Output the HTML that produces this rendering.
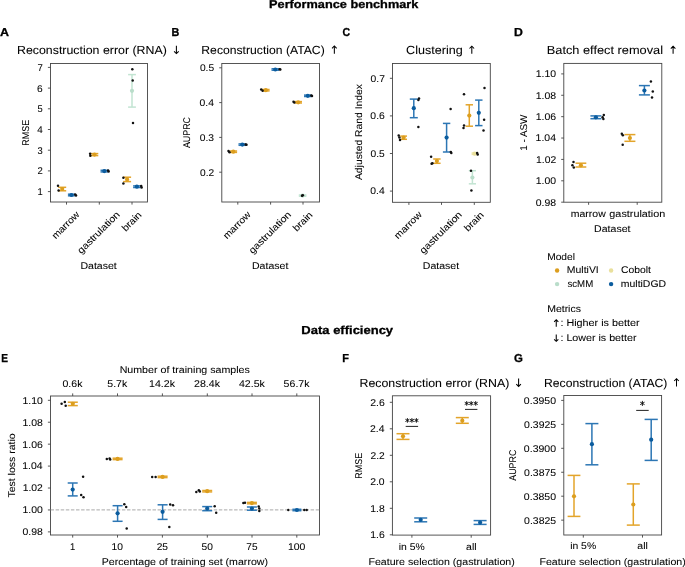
<!DOCTYPE html>
<html><head><meta charset="utf-8"><style>
html,body{margin:0;padding:0;background:#fff;}
svg{display:block;will-change:transform;}
text{font-family:"Liberation Sans",sans-serif;text-rendering:geometricPrecision;}
</style></head><body>
<svg width="685" height="567" viewBox="0 0 685 567">
<rect width="685" height="567" fill="#fff"/>
<text x="269.07" y="8.00" font-size="11.31" font-weight="bold" textLength="149.26" lengthAdjust="spacingAndGlyphs" fill="#000" stroke="#000" stroke-width="0.3">Performance benchmark</text>
<text x="301.36" y="333.70" font-size="11.55" font-weight="bold" textLength="91.74" lengthAdjust="spacingAndGlyphs" fill="#000" stroke="#000" stroke-width="0.3">Data efficiency</text>
<text x="-0.01" y="36.10" font-size="11.55" font-weight="bold" textLength="9.00" lengthAdjust="spacingAndGlyphs" fill="#000" stroke="#000" stroke-width="0.3">A</text>
<text x="171.60" y="36.10" font-size="11.55" font-weight="bold" textLength="7.81" lengthAdjust="spacingAndGlyphs" fill="#000" stroke="#000" stroke-width="0.3">B</text>
<text x="342.58" y="36.10" font-size="11.55" font-weight="bold" textLength="7.58" lengthAdjust="spacingAndGlyphs" fill="#000" stroke="#000" stroke-width="0.3">C</text>
<text x="514.00" y="36.10" font-size="11.55" font-weight="bold" textLength="8.84" lengthAdjust="spacingAndGlyphs" fill="#000" stroke="#000" stroke-width="0.3">D</text>
<text x="1.14" y="361.90" font-size="11.55" font-weight="bold" textLength="6.75" lengthAdjust="spacingAndGlyphs" fill="#000" stroke="#000" stroke-width="0.3">E</text>
<text x="342.19" y="362.00" font-size="11.55" font-weight="bold" textLength="6.72" lengthAdjust="spacingAndGlyphs" fill="#000" stroke="#000" stroke-width="0.3">F</text>
<text x="513.94" y="362.00" font-size="11.55" font-weight="bold" textLength="8.87" lengthAdjust="spacingAndGlyphs" fill="#000" stroke="#000" stroke-width="0.3">G</text>
<text x="17.01" y="54.00" font-size="11.72" textLength="149.82" lengthAdjust="spacingAndGlyphs" fill="#000" stroke="#000" stroke-width="0.06">Reconstruction error (RNA)</text>
<g stroke="#000" stroke-width="1.05" fill="none" stroke-linecap="butt"><line x1="176.4" y1="45.8" x2="176.4" y2="53.3"/><polyline points="174.1,51.3 176.4,53.6 178.70000000000002,51.3"/></g>
<rect x="50.5" y="63.5" width="97.0" height="138.5" fill="none" stroke="#444" stroke-width="0.9"/>
<line x1="47.9" y1="191.6" x2="50.5" y2="191.6" stroke="#444" stroke-width="0.9"/>
<text x="37.59" y="195.00" font-size="9.80" textLength="5.25" lengthAdjust="spacingAndGlyphs" fill="#000" stroke="#000" stroke-width="0.06">1</text>
<line x1="47.9" y1="170.9" x2="50.5" y2="170.9" stroke="#444" stroke-width="0.9"/>
<text x="37.54" y="174.00" font-size="9.80" textLength="5.30" lengthAdjust="spacingAndGlyphs" fill="#000" stroke="#000" stroke-width="0.06">2</text>
<line x1="47.9" y1="150.2" x2="50.5" y2="150.2" stroke="#444" stroke-width="0.9"/>
<text x="37.54" y="154.00" font-size="9.80" textLength="5.24" lengthAdjust="spacingAndGlyphs" fill="#000" stroke="#000" stroke-width="0.06">3</text>
<line x1="47.9" y1="129.5" x2="50.5" y2="129.5" stroke="#444" stroke-width="0.9"/>
<text x="37.16" y="133.00" font-size="9.80" textLength="5.49" lengthAdjust="spacingAndGlyphs" fill="#000" stroke="#000" stroke-width="0.06">4</text>
<line x1="47.9" y1="108.8" x2="50.5" y2="108.8" stroke="#444" stroke-width="0.9"/>
<text x="37.60" y="112.00" font-size="9.80" textLength="5.19" lengthAdjust="spacingAndGlyphs" fill="#000" stroke="#000" stroke-width="0.06">5</text>
<line x1="47.9" y1="88.1" x2="50.5" y2="88.1" stroke="#444" stroke-width="0.9"/>
<text x="37.13" y="92.00" font-size="9.80" textLength="5.69" lengthAdjust="spacingAndGlyphs" fill="#000" stroke="#000" stroke-width="0.06">6</text>
<line x1="47.9" y1="67.4" x2="50.5" y2="67.4" stroke="#444" stroke-width="0.9"/>
<text x="37.49" y="71.00" font-size="9.80" textLength="5.36" lengthAdjust="spacingAndGlyphs" fill="#000" stroke="#000" stroke-width="0.06">7</text>
<line x1="66.5" y1="202.0" x2="66.5" y2="204.6" stroke="#444" stroke-width="0.9"/>
<line x1="99.3" y1="202.0" x2="99.3" y2="204.6" stroke="#444" stroke-width="0.9"/>
<line x1="132.0" y1="202.0" x2="132.0" y2="204.6" stroke="#444" stroke-width="0.9"/>
<text transform="translate(66.30,225.30) rotate(-45)" x="-17.55" y="2.56" font-size="9.66" textLength="34.42" lengthAdjust="spacingAndGlyphs" fill="#000" stroke="#000" stroke-width="0.06">marrow</text>
<text transform="translate(99.00,233.00) rotate(-45)" x="-27.45" y="2.49" font-size="9.66" textLength="55.12" lengthAdjust="spacingAndGlyphs" fill="#000" stroke="#000" stroke-width="0.06">gastrulation</text>
<text transform="translate(131.50,221.30) rotate(-45)" x="-11.65" y="3.45" font-size="9.66" textLength="23.28" lengthAdjust="spacingAndGlyphs" fill="#000" stroke="#000" stroke-width="0.06">brain</text>
<text x="80.43" y="269.00" font-size="9.80" textLength="36.31" lengthAdjust="spacingAndGlyphs" fill="#000" stroke="#000" stroke-width="0.06">Dataset</text>
<text transform="translate(29.40,132.50) rotate(-90)" x="-13.15" y="0.00" font-size="9.80" textLength="25.98" lengthAdjust="spacingAndGlyphs" fill="#000" stroke="#000" stroke-width="0.06">RMSE</text>
<g stroke="#E3A42A" stroke-width="1.5" fill="none"><line x1="62.2" y1="187.3" x2="62.2" y2="190.8"/><line x1="58.2" y1="187.3" x2="66.2" y2="187.3"/><line x1="58.2" y1="190.8" x2="66.2" y2="190.8"/></g><circle cx="62.2" cy="189" r="2.1" fill="#DC9E1E"/>
<circle cx="58" cy="185.7" r="1.25" fill="#111"/>
<circle cx="58.6" cy="190.6" r="1.25" fill="#111"/>
<g stroke="#2C76B4" stroke-width="1.5" fill="none"><line x1="71.4" y1="194.2" x2="71.4" y2="195.8"/><line x1="67.9" y1="194.2" x2="74.9" y2="194.2"/><line x1="67.9" y1="195.8" x2="74.9" y2="195.8"/></g><circle cx="71.4" cy="195" r="2.1" fill="#0B5C9E"/>
<circle cx="75.2" cy="194.4" r="1.25" fill="#111"/>
<circle cx="76" cy="195.6" r="1.25" fill="#111"/>
<g stroke="#E3A42A" stroke-width="1.5" fill="none"><line x1="94.5" y1="153.6" x2="94.5" y2="155.6"/><line x1="90.7" y1="153.6" x2="98.3" y2="153.6"/><line x1="90.7" y1="155.6" x2="98.3" y2="155.6"/></g><circle cx="94.5" cy="154.6" r="2.1" fill="#DC9E1E"/>
<circle cx="90.1" cy="153.8" r="1.25" fill="#111"/>
<circle cx="90.3" cy="155.8" r="1.25" fill="#111"/>
<g stroke="#2C76B4" stroke-width="1.5" fill="none"><line x1="104.3" y1="170.3" x2="104.3" y2="171.9"/><line x1="100.5" y1="170.3" x2="108.1" y2="170.3"/><line x1="100.5" y1="171.9" x2="108.1" y2="171.9"/></g><circle cx="104.3" cy="171.1" r="2.1" fill="#0B5C9E"/>
<circle cx="108.1" cy="170.6" r="1.25" fill="#111"/>
<circle cx="108.6" cy="171.6" r="1.25" fill="#111"/>
<g stroke="#E3A42A" stroke-width="1.5" fill="none"><line x1="127.1" y1="177.2" x2="127.1" y2="181.6"/><line x1="123.1" y1="177.2" x2="131.1" y2="177.2"/><line x1="123.1" y1="181.6" x2="131.1" y2="181.6"/></g><circle cx="127.1" cy="179.4" r="2.1" fill="#DC9E1E"/>
<circle cx="123.4" cy="177.7" r="1.25" fill="#111"/>
<circle cx="123.4" cy="183.5" r="1.25" fill="#111"/>
<g stroke="#2C76B4" stroke-width="1.5" fill="none"><line x1="136.9" y1="185.9" x2="136.9" y2="187.5"/><line x1="133.1" y1="185.9" x2="140.70000000000002" y2="185.9"/><line x1="133.1" y1="187.5" x2="140.70000000000002" y2="187.5"/></g><circle cx="136.9" cy="186.7" r="2.1" fill="#0B5C9E"/>
<circle cx="141.2" cy="186.0" r="1.25" fill="#111"/>
<circle cx="141.6" cy="187.6" r="1.25" fill="#111"/>
<g stroke="#C2E4D2" stroke-width="1.5" fill="none"><line x1="132" y1="74.6" x2="132" y2="107.1"/><line x1="128.1" y1="74.6" x2="135.9" y2="74.6"/><line x1="128.1" y1="107.1" x2="135.9" y2="107.1"/></g><circle cx="132" cy="90.8" r="2.1" fill="#B9DDCA"/>
<circle cx="132.3" cy="69.3" r="1.25" fill="#111"/>
<circle cx="132.7" cy="80.4" r="1.25" fill="#111"/>
<circle cx="133" cy="122.9" r="1.25" fill="#111"/>
<text x="201.33" y="54.00" font-size="11.72" textLength="123.38" lengthAdjust="spacingAndGlyphs" fill="#000" stroke="#000" stroke-width="0.06">Reconstruction (ATAC)</text>
<g stroke="#000" stroke-width="1.05" fill="none" stroke-linecap="butt"><line x1="334.35" y1="46.300000000000004" x2="334.35" y2="53.8"/><polyline points="332.05,48.300000000000004 334.35,46.0 336.65000000000003,48.300000000000004"/></g>
<rect x="221.8" y="63.5" width="97.69999999999999" height="138.5" fill="none" stroke="#444" stroke-width="0.9"/>
<line x1="219.20000000000002" y1="67.8" x2="221.8" y2="67.8" stroke="#444" stroke-width="0.9"/>
<text x="199.91" y="71.00" font-size="9.80" textLength="14.20" lengthAdjust="spacingAndGlyphs" fill="#000" stroke="#000" stroke-width="0.06">0.5</text>
<line x1="219.20000000000002" y1="102.6" x2="221.8" y2="102.6" stroke="#444" stroke-width="0.9"/>
<text x="199.58" y="106.00" font-size="9.80" textLength="14.38" lengthAdjust="spacingAndGlyphs" fill="#000" stroke="#000" stroke-width="0.06">0.4</text>
<line x1="219.20000000000002" y1="137.4" x2="221.8" y2="137.4" stroke="#444" stroke-width="0.9"/>
<text x="199.81" y="141.00" font-size="9.80" textLength="14.30" lengthAdjust="spacingAndGlyphs" fill="#000" stroke="#000" stroke-width="0.06">0.3</text>
<line x1="219.20000000000002" y1="172.2" x2="221.8" y2="172.2" stroke="#444" stroke-width="0.9"/>
<text x="200.00" y="176.00" font-size="9.80" textLength="14.16" lengthAdjust="spacingAndGlyphs" fill="#000" stroke="#000" stroke-width="0.06">0.2</text>
<line x1="237.8" y1="202.0" x2="237.8" y2="204.6" stroke="#444" stroke-width="0.9"/>
<line x1="270.6" y1="202.0" x2="270.6" y2="204.6" stroke="#444" stroke-width="0.9"/>
<line x1="303.0" y1="202.0" x2="303.0" y2="204.6" stroke="#444" stroke-width="0.9"/>
<text transform="translate(237.60,225.30) rotate(-45)" x="-17.55" y="2.56" font-size="9.66" textLength="34.42" lengthAdjust="spacingAndGlyphs" fill="#000" stroke="#000" stroke-width="0.06">marrow</text>
<text transform="translate(270.30,233.00) rotate(-45)" x="-27.45" y="2.49" font-size="9.66" textLength="55.12" lengthAdjust="spacingAndGlyphs" fill="#000" stroke="#000" stroke-width="0.06">gastrulation</text>
<text transform="translate(302.50,221.30) rotate(-45)" x="-11.65" y="3.45" font-size="9.66" textLength="23.28" lengthAdjust="spacingAndGlyphs" fill="#000" stroke="#000" stroke-width="0.06">brain</text>
<text x="252.03" y="269.00" font-size="9.80" textLength="36.31" lengthAdjust="spacingAndGlyphs" fill="#000" stroke="#000" stroke-width="0.06">Dataset</text>
<text transform="translate(190.00,132.70) rotate(-90)" x="-15.42" y="0.00" font-size="9.80" textLength="31.15" lengthAdjust="spacingAndGlyphs" fill="#000" stroke="#000" stroke-width="0.06">AUPRC</text>
<g stroke="#E3A42A" stroke-width="1.5" fill="none"><line x1="233.3" y1="151.0" x2="233.3" y2="152.4"/><line x1="229.5" y1="151.0" x2="237.10000000000002" y2="151.0"/><line x1="229.5" y1="152.4" x2="237.10000000000002" y2="152.4"/></g><circle cx="233.3" cy="151.7" r="2.1" fill="#DC9E1E"/>
<circle cx="228.5" cy="151.0" r="1.25" fill="#111"/>
<circle cx="229.5" cy="152.2" r="1.25" fill="#111"/>
<g stroke="#2C76B4" stroke-width="1.5" fill="none"><line x1="242.3" y1="143.9" x2="242.3" y2="145.3"/><line x1="238.5" y1="143.9" x2="246.10000000000002" y2="143.9"/><line x1="238.5" y1="145.3" x2="246.10000000000002" y2="145.3"/></g><circle cx="242.3" cy="144.6" r="2.1" fill="#0B5C9E"/>
<circle cx="245.7" cy="144.4" r="1.25" fill="#111"/>
<circle cx="246.5" cy="144.8" r="1.25" fill="#111"/>
<g stroke="#E3A42A" stroke-width="1.5" fill="none"><line x1="265.8" y1="89.5" x2="265.8" y2="90.9"/><line x1="262.0" y1="89.5" x2="269.6" y2="89.5"/><line x1="262.0" y1="90.9" x2="269.6" y2="90.9"/></g><circle cx="265.8" cy="90.2" r="2.1" fill="#DC9E1E"/>
<circle cx="261.2" cy="89.6" r="1.25" fill="#111"/>
<circle cx="262.6" cy="90.8" r="1.25" fill="#111"/>
<g stroke="#2C76B4" stroke-width="1.5" fill="none"><line x1="275.3" y1="68.8" x2="275.3" y2="70.2"/><line x1="271.5" y1="68.8" x2="279.1" y2="68.8"/><line x1="271.5" y1="70.2" x2="279.1" y2="70.2"/></g><circle cx="275.3" cy="69.5" r="2.1" fill="#0B5C9E"/>
<circle cx="279.7" cy="69.2" r="1.25" fill="#111"/>
<circle cx="280.3" cy="69.6" r="1.25" fill="#111"/>
<g stroke="#E3A42A" stroke-width="1.5" fill="none"><line x1="298.2" y1="101.6" x2="298.2" y2="103.0"/><line x1="294.4" y1="101.6" x2="302.0" y2="101.6"/><line x1="294.4" y1="103.0" x2="302.0" y2="103.0"/></g><circle cx="298.2" cy="102.3" r="2.1" fill="#DC9E1E"/>
<circle cx="293.5" cy="101.8" r="1.25" fill="#111"/>
<circle cx="294.3" cy="102.6" r="1.25" fill="#111"/>
<g stroke="#2C76B4" stroke-width="1.5" fill="none"><line x1="307.8" y1="95.1" x2="307.8" y2="96.5"/><line x1="304.0" y1="95.1" x2="311.6" y2="95.1"/><line x1="304.0" y1="96.5" x2="311.6" y2="96.5"/></g><circle cx="307.8" cy="95.8" r="2.1" fill="#0B5C9E"/>
<circle cx="311.3" cy="95.6" r="1.25" fill="#111"/>
<circle cx="312" cy="96.0" r="1.25" fill="#111"/>
<g stroke="#C2E4D2" stroke-width="1.5" fill="none"><line x1="302.6" y1="195.0" x2="302.6" y2="196.2"/><line x1="298.8" y1="195.0" x2="306.40000000000003" y2="195.0"/><line x1="298.8" y1="196.2" x2="306.40000000000003" y2="196.2"/></g><circle cx="302.6" cy="195.6" r="2.1" fill="#B9DDCA"/>
<circle cx="302.0" cy="195.8" r="1.25" fill="#111"/>
<circle cx="302.8" cy="195.2" r="1.25" fill="#111"/>
<text x="406.07" y="54.00" font-size="11.72" textLength="56.65" lengthAdjust="spacingAndGlyphs" fill="#000" stroke="#000" stroke-width="0.06">Clustering</text>
<g stroke="#000" stroke-width="1.05" fill="none" stroke-linecap="butt"><line x1="471.8" y1="46.5" x2="471.8" y2="53.7"/><polyline points="469.5,48.5 471.8,46.199999999999996 474.1,48.5"/></g>
<rect x="392.5" y="63.5" width="97.80000000000001" height="138.8" fill="none" stroke="#444" stroke-width="0.9"/>
<line x1="389.9" y1="78.3" x2="392.5" y2="78.3" stroke="#444" stroke-width="0.9"/>
<text x="370.56" y="82.00" font-size="9.80" textLength="14.31" lengthAdjust="spacingAndGlyphs" fill="#000" stroke="#000" stroke-width="0.06">0.7</text>
<line x1="389.9" y1="115.89999999999999" x2="392.5" y2="115.89999999999999" stroke="#444" stroke-width="0.9"/>
<text x="370.37" y="119.00" font-size="9.80" textLength="14.45" lengthAdjust="spacingAndGlyphs" fill="#000" stroke="#000" stroke-width="0.06">0.6</text>
<line x1="389.9" y1="153.5" x2="392.5" y2="153.5" stroke="#444" stroke-width="0.9"/>
<text x="370.61" y="157.00" font-size="9.80" textLength="14.20" lengthAdjust="spacingAndGlyphs" fill="#000" stroke="#000" stroke-width="0.06">0.5</text>
<line x1="389.9" y1="191.09999999999997" x2="392.5" y2="191.09999999999997" stroke="#444" stroke-width="0.9"/>
<text x="370.28" y="194.00" font-size="9.80" textLength="14.38" lengthAdjust="spacingAndGlyphs" fill="#000" stroke="#000" stroke-width="0.06">0.4</text>
<line x1="408.9" y1="202.3" x2="408.9" y2="204.9" stroke="#444" stroke-width="0.9"/>
<line x1="441.5" y1="202.3" x2="441.5" y2="204.9" stroke="#444" stroke-width="0.9"/>
<line x1="474.3" y1="202.3" x2="474.3" y2="204.9" stroke="#444" stroke-width="0.9"/>
<text transform="translate(408.70,225.30) rotate(-45)" x="-17.55" y="2.56" font-size="9.66" textLength="34.42" lengthAdjust="spacingAndGlyphs" fill="#000" stroke="#000" stroke-width="0.06">marrow</text>
<text transform="translate(441.20,233.00) rotate(-45)" x="-27.45" y="2.49" font-size="9.66" textLength="55.12" lengthAdjust="spacingAndGlyphs" fill="#000" stroke="#000" stroke-width="0.06">gastrulation</text>
<text transform="translate(473.80,221.30) rotate(-45)" x="-11.65" y="3.45" font-size="9.66" textLength="23.28" lengthAdjust="spacingAndGlyphs" fill="#000" stroke="#000" stroke-width="0.06">brain</text>
<text x="422.83" y="269.00" font-size="9.80" textLength="36.31" lengthAdjust="spacingAndGlyphs" fill="#000" stroke="#000" stroke-width="0.06">Dataset</text>
<text transform="translate(362.10,132.10) rotate(-90)" x="-47.96" y="0.00" font-size="9.80" textLength="96.01" lengthAdjust="spacingAndGlyphs" fill="#000" stroke="#000" stroke-width="0.06">Adjusted Rand Index</text>
<g stroke="#E3A42A" stroke-width="1.5" fill="none"><line x1="403.6" y1="136.1" x2="403.6" y2="139.3"/><line x1="400.20000000000005" y1="136.1" x2="407.0" y2="136.1"/><line x1="400.20000000000005" y1="139.3" x2="407.0" y2="139.3"/></g><circle cx="403.6" cy="137.6" r="2.1" fill="#DC9E1E"/>
<circle cx="398.7" cy="135.5" r="1.25" fill="#111"/>
<circle cx="399.4" cy="137.6" r="1.25" fill="#111"/>
<circle cx="400" cy="140" r="1.25" fill="#111"/>
<g stroke="#2C76B4" stroke-width="1.5" fill="none"><line x1="413.8" y1="99.1" x2="413.8" y2="117.7"/><line x1="409.8" y1="99.1" x2="417.8" y2="99.1"/><line x1="409.8" y1="117.7" x2="417.8" y2="117.7"/></g><circle cx="413.8" cy="108.2" r="2.1" fill="#0B5C9E"/>
<circle cx="419" cy="98.6" r="1.25" fill="#111"/>
<circle cx="418.4" cy="100.1" r="1.25" fill="#111"/>
<circle cx="418.4" cy="127" r="1.25" fill="#111"/>
<g stroke="#E3A42A" stroke-width="1.5" fill="none"><line x1="436.9" y1="159" x2="436.9" y2="163.3"/><line x1="433.2" y1="159" x2="440.59999999999997" y2="159"/><line x1="433.2" y1="163.3" x2="440.59999999999997" y2="163.3"/></g><circle cx="436.9" cy="161.1" r="2.1" fill="#DC9E1E"/>
<circle cx="431.1" cy="156.7" r="1.25" fill="#111"/>
<circle cx="431.6" cy="163.7" r="1.25" fill="#111"/>
<circle cx="432.4" cy="163.3" r="1.25" fill="#111"/>
<g stroke="#2C76B4" stroke-width="1.5" fill="none"><line x1="446.6" y1="123.4" x2="446.6" y2="152"/><line x1="442.90000000000003" y1="123.4" x2="450.3" y2="123.4"/><line x1="442.90000000000003" y1="152" x2="450.3" y2="152"/></g><circle cx="446.6" cy="137.6" r="2.1" fill="#0B5C9E"/>
<circle cx="450.6" cy="109" r="1.25" fill="#111"/>
<circle cx="450.8" cy="152" r="1.25" fill="#111"/>
<circle cx="451.3" cy="153.1" r="1.25" fill="#111"/>
<g stroke="#E3A42A" stroke-width="1.5" fill="none"><line x1="469.3" y1="104.8" x2="469.3" y2="126.2"/><line x1="465.6" y1="104.8" x2="473.0" y2="104.8"/><line x1="465.6" y1="126.2" x2="473.0" y2="126.2"/></g><circle cx="469.3" cy="115.6" r="2.1" fill="#DC9E1E"/>
<circle cx="464" cy="94.2" r="1.25" fill="#111"/>
<circle cx="464" cy="125.6" r="1.25" fill="#111"/>
<circle cx="463.5" cy="128.1" r="1.25" fill="#111"/>
<g stroke="#2C76B4" stroke-width="1.5" fill="none"><line x1="478.8" y1="100.1" x2="478.8" y2="125.6"/><line x1="475.1" y1="100.1" x2="482.5" y2="100.1"/><line x1="475.1" y1="125.6" x2="482.5" y2="125.6"/></g><circle cx="478.8" cy="112.8" r="2.1" fill="#0B5C9E"/>
<circle cx="484.5" cy="88" r="1.25" fill="#111"/>
<circle cx="484.1" cy="119.8" r="1.25" fill="#111"/>
<circle cx="483.5" cy="130.4" r="1.25" fill="#111"/>
<g stroke="#EEE6A8" stroke-width="1.5" fill="none"><line x1="474.6" y1="153.0" x2="474.6" y2="154.4"/><line x1="471.6" y1="153.0" x2="477.6" y2="153.0"/><line x1="471.6" y1="154.4" x2="477.6" y2="154.4"/></g><circle cx="474.6" cy="153.7" r="2.1" fill="#E9E09C"/>
<circle cx="477.1" cy="153.1" r="1.25" fill="#111"/>
<circle cx="477.7" cy="154.6" r="1.25" fill="#111"/>
<g stroke="#C2E4D2" stroke-width="1.5" fill="none"><line x1="472.4" y1="170.7" x2="472.4" y2="183.8"/><line x1="468.79999999999995" y1="170.7" x2="476.0" y2="170.7"/><line x1="468.79999999999995" y1="183.8" x2="476.0" y2="183.8"/></g><circle cx="472.4" cy="177.5" r="2.1" fill="#B9DDCA"/>
<circle cx="471" cy="170.7" r="1.25" fill="#111"/>
<circle cx="471.4" cy="190.6" r="1.25" fill="#111"/>
<text x="546.78" y="54.00" font-size="11.72" textLength="116.26" lengthAdjust="spacingAndGlyphs" fill="#000" stroke="#000" stroke-width="0.06">Batch effect removal</text>
<g stroke="#000" stroke-width="1.05" fill="none" stroke-linecap="butt"><line x1="673.1" y1="46.6" x2="673.1" y2="53.7"/><polyline points="670.8000000000001,48.6 673.1,46.3 675.4,48.6"/></g>
<rect x="563.8" y="63.4" width="98.0" height="138.79999999999998" fill="none" stroke="#444" stroke-width="0.9"/>
<line x1="561.1999999999999" y1="73.9" x2="563.8" y2="73.9" stroke="#444" stroke-width="0.9"/>
<text x="535.74" y="77.00" font-size="9.80" textLength="20.34" lengthAdjust="spacingAndGlyphs" fill="#000" stroke="#000" stroke-width="0.06">1.10</text>
<line x1="561.1999999999999" y1="95.28" x2="563.8" y2="95.28" stroke="#444" stroke-width="0.9"/>
<text x="535.74" y="99.00" font-size="9.80" textLength="20.39" lengthAdjust="spacingAndGlyphs" fill="#000" stroke="#000" stroke-width="0.06">1.08</text>
<line x1="561.1999999999999" y1="116.66" x2="563.8" y2="116.66" stroke="#444" stroke-width="0.9"/>
<text x="535.69" y="120.00" font-size="9.80" textLength="20.44" lengthAdjust="spacingAndGlyphs" fill="#000" stroke="#000" stroke-width="0.06">1.06</text>
<line x1="561.1999999999999" y1="138.04000000000002" x2="563.8" y2="138.04000000000002" stroke="#444" stroke-width="0.9"/>
<text x="535.60" y="141.00" font-size="9.80" textLength="20.37" lengthAdjust="spacingAndGlyphs" fill="#000" stroke="#000" stroke-width="0.06">1.04</text>
<line x1="561.1999999999999" y1="159.42000000000002" x2="563.8" y2="159.42000000000002" stroke="#444" stroke-width="0.9"/>
<text x="536.03" y="163.00" font-size="9.80" textLength="20.15" lengthAdjust="spacingAndGlyphs" fill="#000" stroke="#000" stroke-width="0.06">1.02</text>
<line x1="561.1999999999999" y1="180.8" x2="563.8" y2="180.8" stroke="#444" stroke-width="0.9"/>
<text x="535.74" y="184.00" font-size="9.80" textLength="20.34" lengthAdjust="spacingAndGlyphs" fill="#000" stroke="#000" stroke-width="0.06">1.00</text>
<line x1="561.1999999999999" y1="202.18" x2="563.8" y2="202.18" stroke="#444" stroke-width="0.9"/>
<text x="535.79" y="206.00" font-size="9.80" textLength="20.34" lengthAdjust="spacingAndGlyphs" fill="#000" stroke="#000" stroke-width="0.06">0.98</text>
<line x1="588.6" y1="202.2" x2="588.6" y2="204.79999999999998" stroke="#444" stroke-width="0.9"/>
<line x1="637.2" y1="202.2" x2="637.2" y2="204.79999999999998" stroke="#444" stroke-width="0.9"/>
<text x="570.80" y="216.70" font-size="9.80" textLength="34.91" lengthAdjust="spacingAndGlyphs" fill="#000" stroke="#000" stroke-width="0.06">marrow</text>
<text x="609.36" y="216.70" font-size="9.80" textLength="55.90" lengthAdjust="spacingAndGlyphs" fill="#000" stroke="#000" stroke-width="0.06">gastrulation</text>
<text x="594.13" y="231.70" font-size="9.80" textLength="36.31" lengthAdjust="spacingAndGlyphs" fill="#000" stroke="#000" stroke-width="0.06">Dataset</text>
<text transform="translate(526.70,132.30) rotate(-90)" x="-18.49" y="0.00" font-size="9.80" textLength="36.22" lengthAdjust="spacingAndGlyphs" fill="#000" stroke="#000" stroke-width="0.06">1 - ASW</text>
<g stroke="#E3A42A" stroke-width="1.5" fill="none"><line x1="580.9" y1="163.2" x2="580.9" y2="167"/><line x1="575.5" y1="163.2" x2="586.3" y2="163.2"/><line x1="575.5" y1="167" x2="586.3" y2="167"/></g><circle cx="580.9" cy="165.3" r="2.1" fill="#DC9E1E"/>
<circle cx="573.5" cy="162" r="1.25" fill="#111"/>
<circle cx="572.4" cy="165.3" r="1.25" fill="#111"/>
<circle cx="573.8" cy="167.6" r="1.25" fill="#111"/>
<g stroke="#2C76B4" stroke-width="1.5" fill="none"><line x1="595.9" y1="115.9" x2="595.9" y2="118.7"/><line x1="590.4" y1="115.9" x2="601.4" y2="115.9"/><line x1="590.4" y1="118.7" x2="601.4" y2="118.7"/></g><circle cx="595.9" cy="117.3" r="2.1" fill="#0B5C9E"/>
<circle cx="603.8" cy="115" r="1.25" fill="#111"/>
<circle cx="602.6" cy="117.3" r="1.25" fill="#111"/>
<circle cx="603.4" cy="119.1" r="1.25" fill="#111"/>
<g stroke="#E3A42A" stroke-width="1.5" fill="none"><line x1="629.9" y1="134.6" x2="629.9" y2="141.3"/><line x1="624.4" y1="134.6" x2="635.4" y2="134.6"/><line x1="624.4" y1="141.3" x2="635.4" y2="141.3"/></g><circle cx="629.9" cy="138" r="2.1" fill="#DC9E1E"/>
<circle cx="621.8" cy="133.7" r="1.25" fill="#111"/>
<circle cx="622.8" cy="135.3" r="1.25" fill="#111"/>
<circle cx="622.7" cy="144.7" r="1.25" fill="#111"/>
<g stroke="#2C76B4" stroke-width="1.5" fill="none"><line x1="644.4" y1="85.6" x2="644.4" y2="94.9"/><line x1="638.9" y1="85.6" x2="649.9" y2="85.6"/><line x1="638.9" y1="94.9" x2="649.9" y2="94.9"/></g><circle cx="644.4" cy="90.5" r="2.1" fill="#0B5C9E"/>
<circle cx="650.9" cy="81.5" r="1.25" fill="#111"/>
<circle cx="652.8" cy="91.4" r="1.25" fill="#111"/>
<circle cx="652" cy="97.6" r="1.25" fill="#111"/>
<text x="547.19" y="259.60" font-size="9.80" textLength="27.73" lengthAdjust="spacingAndGlyphs" fill="#000" stroke="#000" stroke-width="0.06">Model</text>
<circle cx="557.1" cy="270.5" r="2.2" fill="#DC9E1E"/>
<text x="566.86" y="273.00" font-size="9.80" textLength="31.92" lengthAdjust="spacingAndGlyphs" fill="#000" stroke="#000" stroke-width="0.06">MultiVI</text>
<circle cx="611.1" cy="270.5" r="2.2" fill="#E9E09C"/>
<text x="620.98" y="273.00" font-size="9.80" textLength="29.91" lengthAdjust="spacingAndGlyphs" fill="#000" stroke="#000" stroke-width="0.06">Cobolt</text>
<circle cx="557.1" cy="284.1" r="2.2" fill="#B9DDCA"/>
<text x="567.46" y="286.60" font-size="9.80" textLength="25.75" lengthAdjust="spacingAndGlyphs" fill="#000" stroke="#000" stroke-width="0.06">scMM</text>
<circle cx="611.1" cy="284.1" r="2.2" fill="#0B5C9E"/>
<text x="620.82" y="286.60" font-size="9.80" textLength="45.27" lengthAdjust="spacingAndGlyphs" fill="#000" stroke="#000" stroke-width="0.06">multiDGD</text>
<text x="547.16" y="311.50" font-size="9.80" textLength="33.79" lengthAdjust="spacingAndGlyphs" fill="#000" stroke="#000" stroke-width="0.06">Metrics</text>
<text x="560.43" y="326.30" font-size="9.80" textLength="79.14" lengthAdjust="spacingAndGlyphs" fill="#000" stroke="#000" stroke-width="0.06">: Higher is better</text>
<g stroke="#000" stroke-width="1.05" fill="none" stroke-linecap="butt"><line x1="556.25" y1="320.1" x2="556.25" y2="326.7"/><polyline points="554.15,321.8 556.25,319.8 558.35,321.8"/></g>
<text x="560.44" y="341.10" font-size="9.80" textLength="76.08" lengthAdjust="spacingAndGlyphs" fill="#000" stroke="#000" stroke-width="0.06">: Lower is better</text>
<g stroke="#000" stroke-width="1.05" fill="none" stroke-linecap="butt"><line x1="556.25" y1="334.6" x2="556.25" y2="341.0"/><polyline points="554.15,339.3 556.25,341.3 558.35,339.3"/></g>
<rect x="50.5" y="396.0" width="269.0" height="139.0" fill="none" stroke="#444" stroke-width="0.9"/>
<line x1="50.5" y1="509.9" x2="319.5" y2="509.9" stroke="#A8A8A8" stroke-width="1" stroke-dasharray="3.5,1.6"/>
<line x1="47.9" y1="400.3" x2="50.5" y2="400.3" stroke="#444" stroke-width="0.9"/>
<text x="22.44" y="404.00" font-size="9.80" textLength="20.34" lengthAdjust="spacingAndGlyphs" fill="#000" stroke="#000" stroke-width="0.06">1.10</text>
<line x1="47.9" y1="422.23" x2="50.5" y2="422.23" stroke="#444" stroke-width="0.9"/>
<text x="22.44" y="426.00" font-size="9.80" textLength="20.39" lengthAdjust="spacingAndGlyphs" fill="#000" stroke="#000" stroke-width="0.06">1.08</text>
<line x1="47.9" y1="444.16" x2="50.5" y2="444.16" stroke="#444" stroke-width="0.9"/>
<text x="22.39" y="448.00" font-size="9.80" textLength="20.44" lengthAdjust="spacingAndGlyphs" fill="#000" stroke="#000" stroke-width="0.06">1.06</text>
<line x1="47.9" y1="466.09000000000003" x2="50.5" y2="466.09000000000003" stroke="#444" stroke-width="0.9"/>
<text x="22.30" y="469.00" font-size="9.80" textLength="20.37" lengthAdjust="spacingAndGlyphs" fill="#000" stroke="#000" stroke-width="0.06">1.04</text>
<line x1="47.9" y1="488.02" x2="50.5" y2="488.02" stroke="#444" stroke-width="0.9"/>
<text x="22.73" y="491.00" font-size="9.80" textLength="20.15" lengthAdjust="spacingAndGlyphs" fill="#000" stroke="#000" stroke-width="0.06">1.02</text>
<line x1="47.9" y1="509.95000000000005" x2="50.5" y2="509.95000000000005" stroke="#444" stroke-width="0.9"/>
<text x="22.44" y="513.00" font-size="9.80" textLength="20.34" lengthAdjust="spacingAndGlyphs" fill="#000" stroke="#000" stroke-width="0.06">1.00</text>
<line x1="47.9" y1="531.88" x2="50.5" y2="531.88" stroke="#444" stroke-width="0.9"/>
<text x="22.49" y="535.00" font-size="9.80" textLength="20.34" lengthAdjust="spacingAndGlyphs" fill="#000" stroke="#000" stroke-width="0.06">0.98</text>
<line x1="72.7" y1="535.0" x2="72.7" y2="537.6" stroke="#444" stroke-width="0.9"/>
<line x1="72.7" y1="396.0" x2="72.7" y2="393.4" stroke="#444" stroke-width="0.9"/>
<text x="69.94" y="549.70" font-size="9.80" textLength="5.25" lengthAdjust="spacingAndGlyphs" fill="#000" stroke="#000" stroke-width="0.06">1</text>
<text x="62.51" y="386.50" font-size="9.80" textLength="19.96" lengthAdjust="spacingAndGlyphs" fill="#000" stroke="#000" stroke-width="0.06">0.6k</text>
<line x1="117.5" y1="535.0" x2="117.5" y2="537.6" stroke="#444" stroke-width="0.9"/>
<line x1="117.5" y1="396.0" x2="117.5" y2="393.4" stroke="#444" stroke-width="0.9"/>
<text x="111.60" y="549.70" font-size="9.80" textLength="11.42" lengthAdjust="spacingAndGlyphs" fill="#000" stroke="#000" stroke-width="0.06">10</text>
<text x="107.31" y="386.50" font-size="9.80" textLength="19.92" lengthAdjust="spacingAndGlyphs" fill="#000" stroke="#000" stroke-width="0.06">5.7k</text>
<line x1="162.4" y1="535.0" x2="162.4" y2="537.6" stroke="#444" stroke-width="0.9"/>
<line x1="162.4" y1="396.0" x2="162.4" y2="393.4" stroke="#444" stroke-width="0.9"/>
<text x="156.69" y="549.70" font-size="9.80" textLength="11.34" lengthAdjust="spacingAndGlyphs" fill="#000" stroke="#000" stroke-width="0.06">25</text>
<text x="149.01" y="386.50" font-size="9.80" textLength="25.95" lengthAdjust="spacingAndGlyphs" fill="#000" stroke="#000" stroke-width="0.06">14.2k</text>
<line x1="207.3" y1="535.0" x2="207.3" y2="537.6" stroke="#444" stroke-width="0.9"/>
<line x1="207.3" y1="396.0" x2="207.3" y2="393.4" stroke="#444" stroke-width="0.9"/>
<text x="201.62" y="549.70" font-size="9.80" textLength="11.33" lengthAdjust="spacingAndGlyphs" fill="#000" stroke="#000" stroke-width="0.06">50</text>
<text x="194.01" y="386.50" font-size="9.80" textLength="26.01" lengthAdjust="spacingAndGlyphs" fill="#000" stroke="#000" stroke-width="0.06">28.4k</text>
<line x1="252.0" y1="535.0" x2="252.0" y2="537.6" stroke="#444" stroke-width="0.9"/>
<line x1="252.0" y1="396.0" x2="252.0" y2="393.4" stroke="#444" stroke-width="0.9"/>
<text x="246.34" y="549.70" font-size="9.80" textLength="11.24" lengthAdjust="spacingAndGlyphs" fill="#000" stroke="#000" stroke-width="0.06">75</text>
<text x="238.91" y="386.50" font-size="9.80" textLength="25.92" lengthAdjust="spacingAndGlyphs" fill="#000" stroke="#000" stroke-width="0.06">42.5k</text>
<line x1="296.8" y1="535.0" x2="296.8" y2="537.6" stroke="#444" stroke-width="0.9"/>
<line x1="296.8" y1="396.0" x2="296.8" y2="393.4" stroke="#444" stroke-width="0.9"/>
<text x="287.90" y="549.70" font-size="9.80" textLength="17.42" lengthAdjust="spacingAndGlyphs" fill="#000" stroke="#000" stroke-width="0.06">100</text>
<text x="283.64" y="386.50" font-size="9.80" textLength="25.85" lengthAdjust="spacingAndGlyphs" fill="#000" stroke="#000" stroke-width="0.06">56.7k</text>
<text x="119.65" y="372.70" font-size="9.80" textLength="130.19" lengthAdjust="spacingAndGlyphs" fill="#000" stroke="#000" stroke-width="0.06">Number of training samples</text>
<text x="101.74" y="564.70" font-size="9.80" textLength="166.29" lengthAdjust="spacingAndGlyphs" fill="#000" stroke="#000" stroke-width="0.06">Percentage of training set (marrow)</text>
<text transform="translate(14.60,465.60) rotate(-90)" x="-31.91" y="0.00" font-size="9.80" textLength="64.06" lengthAdjust="spacingAndGlyphs" fill="#000" stroke="#000" stroke-width="0.06">Test loss ratio</text>
<g stroke="#E3A42A" stroke-width="1.5" fill="none"><line x1="72.8" y1="402.2" x2="72.8" y2="405.6"/><line x1="67.8" y1="402.2" x2="77.8" y2="402.2"/><line x1="67.8" y1="405.6" x2="77.8" y2="405.6"/></g><circle cx="72.8" cy="403.8" r="2.1" fill="#DC9E1E"/>
<circle cx="61.6" cy="403.8" r="1.25" fill="#111"/>
<circle cx="64.8" cy="401.9" r="1.25" fill="#111"/>
<circle cx="65.7" cy="405.7" r="1.25" fill="#111"/>
<g stroke="#2C76B4" stroke-width="1.5" fill="none"><line x1="72.7" y1="483" x2="72.7" y2="495.9"/><line x1="67.7" y1="483" x2="77.7" y2="483"/><line x1="67.7" y1="495.9" x2="77.7" y2="495.9"/></g><circle cx="72.7" cy="489.6" r="2.1" fill="#0B5C9E"/>
<circle cx="83.1" cy="476.7" r="1.25" fill="#111"/>
<circle cx="81.2" cy="494.9" r="1.25" fill="#111"/>
<circle cx="83.5" cy="497.2" r="1.25" fill="#111"/>
<g stroke="#E3A42A" stroke-width="1.5" fill="none"><line x1="117.6" y1="458.2" x2="117.6" y2="459.6"/><line x1="112.6" y1="458.2" x2="122.6" y2="458.2"/><line x1="112.6" y1="459.6" x2="122.6" y2="459.6"/></g><circle cx="117.6" cy="458.9" r="2.1" fill="#DC9E1E"/>
<circle cx="106.8" cy="458.9" r="1.25" fill="#111"/>
<circle cx="109.6" cy="458.4" r="1.25" fill="#111"/>
<circle cx="110.2" cy="459.4" r="1.25" fill="#111"/>
<g stroke="#2C76B4" stroke-width="1.5" fill="none"><line x1="117.6" y1="505.7" x2="117.6" y2="521.3"/><line x1="112.6" y1="505.7" x2="122.6" y2="505.7"/><line x1="112.6" y1="521.3" x2="122.6" y2="521.3"/></g><circle cx="117.6" cy="513.3" r="2.1" fill="#0B5C9E"/>
<circle cx="124.3" cy="504.2" r="1.25" fill="#111"/>
<circle cx="126.2" cy="507.1" r="1.25" fill="#111"/>
<circle cx="126.7" cy="528.5" r="1.25" fill="#111"/>
<g stroke="#E3A42A" stroke-width="1.5" fill="none"><line x1="162.6" y1="476.2" x2="162.6" y2="477.6"/><line x1="157.6" y1="476.2" x2="167.6" y2="476.2"/><line x1="157.6" y1="477.6" x2="167.6" y2="477.6"/></g><circle cx="162.6" cy="476.9" r="2.1" fill="#DC9E1E"/>
<circle cx="152.2" cy="476.9" r="1.25" fill="#111"/>
<circle cx="155.6" cy="476.9" r="1.25" fill="#111"/>
<g stroke="#2C76B4" stroke-width="1.5" fill="none"><line x1="162.6" y1="504.8" x2="162.6" y2="519.4"/><line x1="157.6" y1="504.8" x2="167.6" y2="504.8"/><line x1="157.6" y1="519.4" x2="167.6" y2="519.4"/></g><circle cx="162.6" cy="511.8" r="2.1" fill="#0B5C9E"/>
<circle cx="170.2" cy="504.4" r="1.25" fill="#111"/>
<circle cx="173" cy="505.2" r="1.25" fill="#111"/>
<circle cx="169.3" cy="527" r="1.25" fill="#111"/>
<g stroke="#E3A42A" stroke-width="1.5" fill="none"><line x1="207.2" y1="490.5" x2="207.2" y2="491.9"/><line x1="202.2" y1="490.5" x2="212.2" y2="490.5"/><line x1="202.2" y1="491.9" x2="212.2" y2="491.9"/></g><circle cx="207.2" cy="491.2" r="2.1" fill="#DC9E1E"/>
<circle cx="196.3" cy="491.9" r="1.25" fill="#111"/>
<circle cx="198.8" cy="490.2" r="1.25" fill="#111"/>
<circle cx="199.8" cy="491.4" r="1.25" fill="#111"/>
<g stroke="#2C76B4" stroke-width="1.5" fill="none"><line x1="207.2" y1="506.6" x2="207.2" y2="510.7"/><line x1="202.2" y1="506.6" x2="212.2" y2="506.6"/><line x1="202.2" y1="510.7" x2="212.2" y2="510.7"/></g><circle cx="207.2" cy="508.6" r="2.1" fill="#0B5C9E"/>
<circle cx="214.7" cy="506.2" r="1.25" fill="#111"/>
<circle cx="216.2" cy="512.7" r="1.25" fill="#111"/>
<g stroke="#E3A42A" stroke-width="1.5" fill="none"><line x1="251.9" y1="502.4" x2="251.9" y2="503.8"/><line x1="246.9" y1="502.4" x2="256.9" y2="502.4"/><line x1="246.9" y1="503.8" x2="256.9" y2="503.8"/></g><circle cx="251.9" cy="503.1" r="2.1" fill="#DC9E1E"/>
<circle cx="243.4" cy="503.1" r="1.25" fill="#111"/>
<circle cx="245" cy="502.8" r="1.25" fill="#111"/>
<g stroke="#2C76B4" stroke-width="1.5" fill="none"><line x1="251.9" y1="507" x2="251.9" y2="510.2"/><line x1="246.9" y1="507" x2="256.9" y2="507"/><line x1="246.9" y1="510.2" x2="256.9" y2="510.2"/></g><circle cx="251.9" cy="508.6" r="2.1" fill="#0B5C9E"/>
<circle cx="258.7" cy="506.6" r="1.25" fill="#111"/>
<circle cx="259.3" cy="508.6" r="1.25" fill="#111"/>
<circle cx="259.3" cy="511.1" r="1.25" fill="#111"/>
<g stroke="#2C76B4" stroke-width="1.5" fill="none"><line x1="296.9" y1="509.3" x2="296.9" y2="510.7"/><line x1="292.4" y1="509.3" x2="301.4" y2="509.3"/><line x1="292.4" y1="510.7" x2="301.4" y2="510.7"/></g><circle cx="296.9" cy="510" r="2.1" fill="#0B5C9E"/>
<circle cx="288.3" cy="510" r="1.25" fill="#111"/>
<circle cx="304.3" cy="510" r="1.25" fill="#111"/>
<circle cx="306.7" cy="510" r="1.25" fill="#111"/>
<rect x="392.4" y="395.8" width="98.20000000000005" height="139.3" fill="none" stroke="#444" stroke-width="0.9"/>
<text x="359.51" y="386.60" font-size="11.72" textLength="149.82" lengthAdjust="spacingAndGlyphs" fill="#000" stroke="#000" stroke-width="0.06">Reconstruction error (RNA)</text>
<g stroke="#000" stroke-width="1.05" fill="none" stroke-linecap="butt"><line x1="518.6" y1="378.4" x2="518.6" y2="386.09999999999997"/><polyline points="516.3000000000001,384.09999999999997 518.6,386.4 520.9,384.09999999999997"/></g>
<line x1="389.79999999999995" y1="402.3" x2="392.4" y2="402.3" stroke="#444" stroke-width="0.9"/>
<text x="370.15" y="406.00" font-size="9.80" textLength="14.57" lengthAdjust="spacingAndGlyphs" fill="#000" stroke="#000" stroke-width="0.06">2.6</text>
<line x1="389.79999999999995" y1="428.8" x2="392.4" y2="428.8" stroke="#444" stroke-width="0.9"/>
<text x="370.06" y="432.00" font-size="9.80" textLength="14.50" lengthAdjust="spacingAndGlyphs" fill="#000" stroke="#000" stroke-width="0.06">2.4</text>
<line x1="389.79999999999995" y1="455.3" x2="392.4" y2="455.3" stroke="#444" stroke-width="0.9"/>
<text x="370.49" y="459.00" font-size="9.80" textLength="14.27" lengthAdjust="spacingAndGlyphs" fill="#000" stroke="#000" stroke-width="0.06">2.2</text>
<line x1="389.79999999999995" y1="481.8" x2="392.4" y2="481.8" stroke="#444" stroke-width="0.9"/>
<text x="370.20" y="485.00" font-size="9.80" textLength="14.46" lengthAdjust="spacingAndGlyphs" fill="#000" stroke="#000" stroke-width="0.06">2.0</text>
<line x1="389.79999999999995" y1="508.3" x2="392.4" y2="508.3" stroke="#444" stroke-width="0.9"/>
<text x="370.27" y="512.00" font-size="9.80" textLength="14.45" lengthAdjust="spacingAndGlyphs" fill="#000" stroke="#000" stroke-width="0.06">1.8</text>
<line x1="389.79999999999995" y1="534.8" x2="392.4" y2="534.8" stroke="#444" stroke-width="0.9"/>
<text x="370.22" y="538.00" font-size="9.80" textLength="14.50" lengthAdjust="spacingAndGlyphs" fill="#000" stroke="#000" stroke-width="0.06">1.6</text>
<line x1="411.9" y1="535.1" x2="411.9" y2="537.7" stroke="#444" stroke-width="0.9"/>
<text x="398.77" y="549.50" font-size="9.80" textLength="25.96" lengthAdjust="spacingAndGlyphs" fill="#000" stroke="#000" stroke-width="0.06">in 5%</text>
<line x1="471.2" y1="535.1" x2="471.2" y2="537.7" stroke="#444" stroke-width="0.9"/>
<text x="466.04" y="549.50" font-size="9.80" textLength="10.53" lengthAdjust="spacingAndGlyphs" fill="#000" stroke="#000" stroke-width="0.06">all</text>
<text x="368.45" y="564.50" font-size="9.80" textLength="146.29" lengthAdjust="spacingAndGlyphs" fill="#000" stroke="#000" stroke-width="0.06">Feature selection (gastrulation)</text>
<text transform="translate(361.50,465.50) rotate(-90)" x="-13.15" y="0.00" font-size="9.80" textLength="25.98" lengthAdjust="spacingAndGlyphs" fill="#000" stroke="#000" stroke-width="0.06">RMSE</text>
<g stroke="#E3A42A" stroke-width="1.5" fill="none"><line x1="403" y1="433.7" x2="403" y2="439.4"/><line x1="396.5" y1="433.7" x2="409.5" y2="433.7"/><line x1="396.5" y1="439.4" x2="409.5" y2="439.4"/></g><circle cx="403" cy="436.3" r="2.1" fill="#DC9E1E"/>
<g stroke="#2C76B4" stroke-width="1.5" fill="none"><line x1="420.7" y1="518" x2="420.7" y2="521.8"/><line x1="414.2" y1="518" x2="427.2" y2="518"/><line x1="414.2" y1="521.8" x2="427.2" y2="521.8"/></g><circle cx="420.7" cy="519.8" r="2.1" fill="#0B5C9E"/>
<g stroke="#E3A42A" stroke-width="1.5" fill="none"><line x1="462.3" y1="417.6" x2="462.3" y2="423.3"/><line x1="455.8" y1="417.6" x2="468.8" y2="417.6"/><line x1="455.8" y1="423.3" x2="468.8" y2="423.3"/></g><circle cx="462.3" cy="420.7" r="2.1" fill="#DC9E1E"/>
<g stroke="#2C76B4" stroke-width="1.5" fill="none"><line x1="480.1" y1="520.6" x2="480.1" y2="524.4"/><line x1="473.6" y1="520.6" x2="486.6" y2="520.6"/><line x1="473.6" y1="524.4" x2="486.6" y2="524.4"/></g><circle cx="480.1" cy="522.6" r="2.1" fill="#0B5C9E"/>
<line x1="405.7" y1="426.4" x2="418.09999999999997" y2="426.4" stroke="#222" stroke-width="1.0"/>
<path d="M407.40,418.10L407.40,422.70M405.41,419.25L409.39,421.55M409.39,419.25L405.41,421.55" stroke="#111" stroke-width="0.95" fill="none"/>
<path d="M411.90,418.10L411.90,422.70M409.91,419.25L413.89,421.55M413.89,419.25L409.91,421.55" stroke="#111" stroke-width="0.95" fill="none"/>
<path d="M416.40,418.10L416.40,422.70M414.41,419.25L418.39,421.55M418.39,419.25L414.41,421.55" stroke="#111" stroke-width="0.95" fill="none"/>
<line x1="465.0" y1="409.4" x2="477.4" y2="409.4" stroke="#222" stroke-width="1.0"/>
<path d="M466.70,401.10L466.70,405.70M464.71,402.25L468.69,404.55M468.69,402.25L464.71,404.55" stroke="#111" stroke-width="0.95" fill="none"/>
<path d="M471.20,401.10L471.20,405.70M469.21,402.25L473.19,404.55M473.19,402.25L469.21,404.55" stroke="#111" stroke-width="0.95" fill="none"/>
<path d="M475.70,401.10L475.70,405.70M473.71,402.25L477.69,404.55M477.69,402.25L473.71,404.55" stroke="#111" stroke-width="0.95" fill="none"/>
<rect x="563.8" y="395.5" width="97.80000000000007" height="139.5" fill="none" stroke="#444" stroke-width="0.9"/>
<text x="544.03" y="386.60" font-size="11.72" textLength="123.38" lengthAdjust="spacingAndGlyphs" fill="#000" stroke="#000" stroke-width="0.06">Reconstruction (ATAC)</text>
<g stroke="#000" stroke-width="1.05" fill="none" stroke-linecap="butt"><line x1="676.5" y1="379.0" x2="676.5" y2="386.5"/><polyline points="674.2,381.0 676.5,378.7 678.8,381.0"/></g>
<line x1="561.1999999999999" y1="400.4" x2="563.8" y2="400.4" stroke="#444" stroke-width="0.9"/>
<text x="523.89" y="404.00" font-size="9.80" textLength="32.16" lengthAdjust="spacingAndGlyphs" fill="#000" stroke="#000" stroke-width="0.06">0.3950</text>
<line x1="561.1999999999999" y1="424.34999999999997" x2="563.8" y2="424.34999999999997" stroke="#444" stroke-width="0.9"/>
<text x="524.08" y="428.00" font-size="9.80" textLength="32.03" lengthAdjust="spacingAndGlyphs" fill="#000" stroke="#000" stroke-width="0.06">0.3925</text>
<line x1="561.1999999999999" y1="448.29999999999995" x2="563.8" y2="448.29999999999995" stroke="#444" stroke-width="0.9"/>
<text x="523.89" y="452.00" font-size="9.80" textLength="32.16" lengthAdjust="spacingAndGlyphs" fill="#000" stroke="#000" stroke-width="0.06">0.3900</text>
<line x1="561.1999999999999" y1="472.25" x2="563.8" y2="472.25" stroke="#444" stroke-width="0.9"/>
<text x="524.08" y="476.00" font-size="9.80" textLength="32.03" lengthAdjust="spacingAndGlyphs" fill="#000" stroke="#000" stroke-width="0.06">0.3875</text>
<line x1="561.1999999999999" y1="496.2" x2="563.8" y2="496.2" stroke="#444" stroke-width="0.9"/>
<text x="523.89" y="500.00" font-size="9.80" textLength="32.16" lengthAdjust="spacingAndGlyphs" fill="#000" stroke="#000" stroke-width="0.06">0.3850</text>
<line x1="561.1999999999999" y1="520.15" x2="563.8" y2="520.15" stroke="#444" stroke-width="0.9"/>
<text x="524.08" y="524.00" font-size="9.80" textLength="32.03" lengthAdjust="spacingAndGlyphs" fill="#000" stroke="#000" stroke-width="0.06">0.3825</text>
<line x1="583.3" y1="535.0" x2="583.3" y2="537.6" stroke="#444" stroke-width="0.9"/>
<text x="570.17" y="549.30" font-size="9.80" textLength="25.96" lengthAdjust="spacingAndGlyphs" fill="#000" stroke="#000" stroke-width="0.06">in 5%</text>
<line x1="642.5" y1="535.0" x2="642.5" y2="537.6" stroke="#444" stroke-width="0.9"/>
<text x="637.34" y="549.30" font-size="9.80" textLength="10.53" lengthAdjust="spacingAndGlyphs" fill="#000" stroke="#000" stroke-width="0.06">all</text>
<text x="539.45" y="564.50" font-size="9.80" textLength="146.29" lengthAdjust="spacingAndGlyphs" fill="#000" stroke="#000" stroke-width="0.06">Feature selection (gastrulation)</text>
<text transform="translate(515.80,465.40) rotate(-90)" x="-15.42" y="0.00" font-size="9.80" textLength="31.15" lengthAdjust="spacingAndGlyphs" fill="#000" stroke="#000" stroke-width="0.06">AUPRC</text>
<g stroke="#E3A42A" stroke-width="1.5" fill="none"><line x1="574" y1="475.4" x2="574" y2="516.4"/><line x1="567.6" y1="475.4" x2="580.4" y2="475.4"/><line x1="567.6" y1="516.4" x2="580.4" y2="516.4"/></g><circle cx="574" cy="496.3" r="2.1" fill="#DC9E1E"/>
<g stroke="#2C76B4" stroke-width="1.5" fill="none"><line x1="591.9" y1="423.6" x2="591.9" y2="464.8"/><line x1="585.4" y1="423.6" x2="598.4" y2="423.6"/><line x1="585.4" y1="464.8" x2="598.4" y2="464.8"/></g><circle cx="591.9" cy="444.2" r="2.1" fill="#0B5C9E"/>
<g stroke="#E3A42A" stroke-width="1.5" fill="none"><line x1="633.3" y1="483.9" x2="633.3" y2="525.1"/><line x1="626.8" y1="483.9" x2="639.8" y2="483.9"/><line x1="626.8" y1="525.1" x2="639.8" y2="525.1"/></g><circle cx="633.3" cy="504.5" r="2.1" fill="#DC9E1E"/>
<g stroke="#2C76B4" stroke-width="1.5" fill="none"><line x1="651.2" y1="419.4" x2="651.2" y2="460.4"/><line x1="644.6" y1="419.4" x2="657.8000000000001" y2="419.4"/><line x1="644.6" y1="460.4" x2="657.8000000000001" y2="460.4"/></g><circle cx="651.2" cy="439.7" r="2.1" fill="#0B5C9E"/>
<line x1="636.2" y1="410.4" x2="648.7" y2="410.4" stroke="#222" stroke-width="1.0"/>
<path d="M642.40,400.90L642.40,405.90M640.23,402.15L644.57,404.65M644.57,402.15L640.23,404.65" stroke="#111" stroke-width="0.95" fill="none"/>
</svg></body></html>
